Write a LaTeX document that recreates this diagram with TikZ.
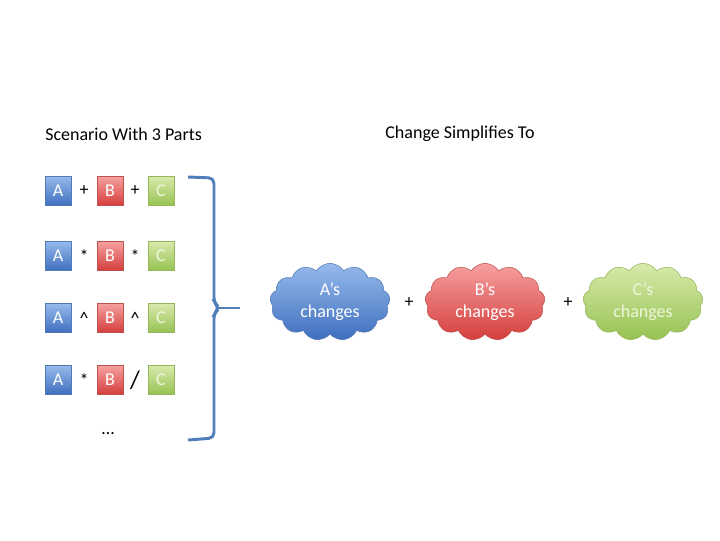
\documentclass[tikz,border=0pt]{standalone}
\usepackage{fontspec}
\setmainfont{Carlito}
\usepackage{tikz}
\usetikzlibrary{positioning,shapes.symbols}
\definecolor{aTop}{RGB}{150,186,235}
\definecolor{aBottom}{RGB}{62,110,190}
\definecolor{aLine}{RGB}{82,122,182}
\definecolor{bTop}{RGB}{246,160,160}
\definecolor{bBottom}{RGB}{212,62,60}
\definecolor{bLine}{RGB}{190,80,77}
\definecolor{cTop}{RGB}{216,234,172}
\definecolor{cBottom}{RGB}{150,194,82}
\definecolor{cLine}{RGB}{150,182,90}
\definecolor{cText}{RGB}{238,246,220}
\definecolor{braceColor}{RGB}{79,126,186}
\tikzstyle{canvas} = [x = 0.75pt, y = -0.75pt]
\tikzstyle{textFont} = [font=\fontsize{13.5}{16}\selectfont]
\tikzstyle{partBox} = [draw, textFont, minimum width=19.5pt, minimum height=21.75pt, inner sep=0pt]
\tikzstyle{aBox} = [partBox, color=aLine, top color=aTop, bottom color=aBottom, text=white]
\tikzstyle{bBox} = [partBox, color=bLine, top color=bTop, bottom color=bBottom, text=white]
\tikzstyle{cBox} = [partBox, color=cLine, top color=cTop, bottom color=cBottom, text=cText]
\tikzstyle{opText} = [textFont, inner sep=0pt]
\tikzstyle{changeCloud} = [cloud, cloud puffs=13, cloud puff arc=115, aspect=1.6, draw, inner sep=0pt, minimum width=90pt, minimum height=58pt, align=center, font=\fontsize{13.5}{16.5}\selectfont]
\tikzstyle{braceLine} = [color=braceColor, line width=2.2pt, rounded corners=4pt]
\newcommand{\partRow}[4]{
  \node [aBox] (a#1) at (58, #2) {A};
  \node [opText] (opOne#1) at (84, #2) {#3};
  \node [bBox] (b#1) at (110, #2) {B};
  \node [opText] (opTwo#1) at (135, #2) {#4};
  \node [cBox] (c#1) at (161, #2) {C};
}
\begin{document}
\begin{tikzpicture}[canvas]
        \useasboundingbox (0,0) rectangle (720,540);
        \node [textFont, anchor=west, inner sep=0pt] (scenarioTitle) at (45, 134) {Scenario With 3 Parts};
        \node [textFont] (changeTitle) at (460, 134) {Change Simplifies To};

        \partRow{1}{191}{+}{+}
        \partRow{2}{256}{*}{*}
        \partRow{3}{318}{\textasciicircum}{\textasciicircum}
        \partRow{4}{380}{*}{\fontsize{19}{20}\selectfont /}
        \node [textFont] (moreRows) at (108, 434) {\dots};

        % brace round the rows
        \coordinate (braceTop) at (188, 177);
        \coordinate (braceBottom) at (188, 440);
        \coordinate (braceTip) at (240, 308);
        \draw [braceLine] (braceTop) -- (214, 178) -- (214, 303) -- (220, 308) -- (214, 313) -- (214, 438) -- (braceBottom);
        \draw [braceLine] (216, 308) -- (braceTip);

        \node [changeCloud, color=aLine, top color=aTop, bottom color=aBottom, text=white] (aCloud) at (330, 302) {A's\\changes};
        \node [opText] (plusOne) at (409, 303) {+};
        \node [changeCloud, color=bLine, top color=bTop, bottom color=bBottom, text=white] (bCloud) at (485, 302) {B's\\changes};
        \node [opText] (plusTwo) at (568, 303) {+};
        \node [changeCloud, color=cLine, top color=cTop, bottom color=cBottom, text=cText] (cCloud) at (643, 302) {C's\\changes};
      \end{tikzpicture}
\end{document}
